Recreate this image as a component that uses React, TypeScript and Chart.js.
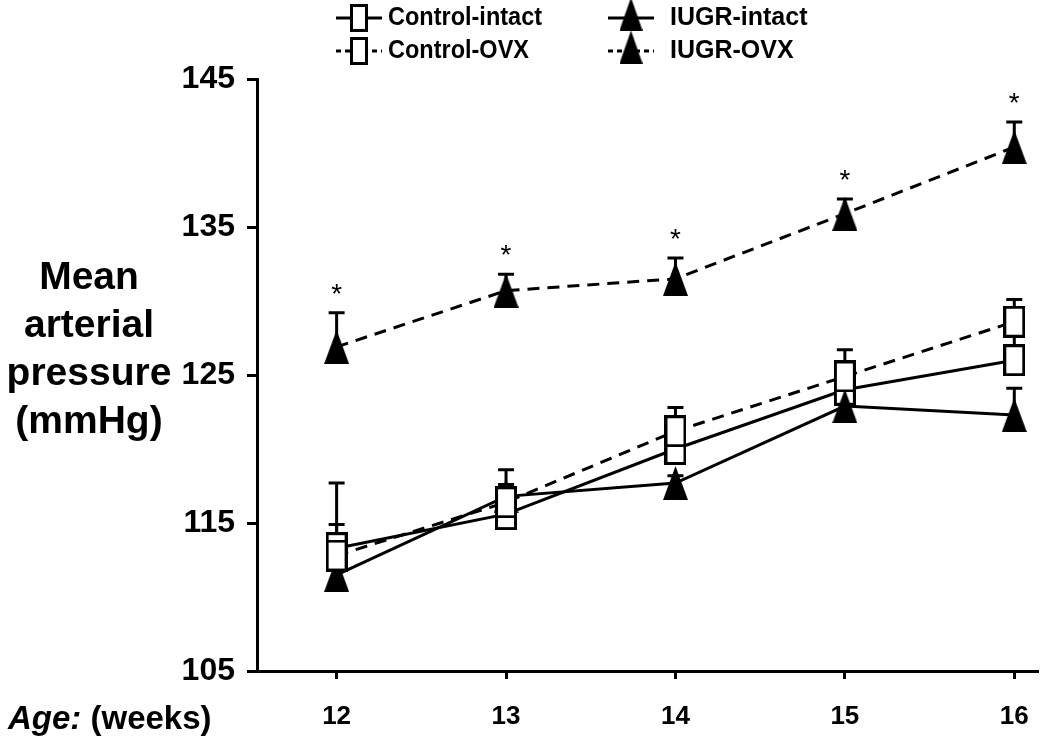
import React, { useEffect, useRef } from "react";
import { Chart, registerables } from "chart.js";

Chart.register(...registerables);

// ---- data ----
const weeks = [12, 13, 14, 15, 16];
const yTickValues = [105, 115, 125, 135, 145];
const seriesNames = ["Control-intact", "Control-OVX", "IUGR-intact", "IUGR-OVX"];

const controlIntact = [113.3, 115.6, 120.0, 124.0, 126.0];
const controlIntactErr = [4.4, 1.0, 1.7, 1.3, 2.0];
const controlOVX = [112.8, 116.4, 121.2, 124.9, 128.6];
const controlOVXErr = [2.1, 2.2, 1.6, 1.8, 1.5];
const iugrIntact = [111.5, 116.8, 117.7, 122.9, 122.3];
const iugrIntactErr = [0.5, 0.8, 0.5, 0.5, 1.8];
const iugrOVX = [126.9, 130.7, 131.5, 135.9, 140.4];
const iugrOVXErr = [2.3, 1.1, 1.4, 1.0, 1.7];
const iugrOVXSignificant = [true, true, true, true, true];

const yTitleLines = ["Mean", "arterial", "pressure", "(mmHg)"];

const FONT = "'Liberation Sans', Arial, Helvetica, sans-serif";

function makeSquare(w: number, h: number, lw: number): HTMLCanvasElement {
  const c = document.createElement("canvas");
  c.width = w;
  c.height = h;
  const ctx = c.getContext("2d")!;
  ctx.fillStyle = "#fff";
  ctx.fillRect(0, 0, w, h);
  ctx.strokeStyle = "#000";
  ctx.lineWidth = lw;
  ctx.strokeRect(lw / 2, lw / 2, w - lw, h - lw);
  return c;
}

function makeTriangle(w: number, h: number): HTMLCanvasElement {
  const c = document.createElement("canvas");
  c.width = w;
  c.height = h;
  const ctx = c.getContext("2d")!;
  ctx.fillStyle = "#000";
  ctx.beginPath();
  ctx.moveTo(w / 2, 0);
  ctx.lineTo(w, h);
  ctx.lineTo(0, h);
  ctx.closePath();
  ctx.fill();
  return c;
}

export default function App() {
  const ref = useRef<HTMLCanvasElement | null>(null);

  useEffect(() => {
    if (!ref.current) return;
    const square = makeSquare(22, 32, 3);
    const triangle = makeTriangle(25, 34);
    const legSquare = makeSquare(18, 28, 3);
    const legTriangle = makeTriangle(23, 33);

    const errs = [controlIntactErr, controlOVXErr, iugrIntactErr, iugrOVXErr];
    const vals = [controlIntact, controlOVX, iugrIntact, iugrOVX];
    const dashes = [[], [12, 8], [], [12, 8]];
    const styles = [square, square, triangle, triangle];
    const orders = [2, 0, 1, 3];

    const datasets = vals.map((v, i) => ({
      label: seriesNames[i],
      data: weeks.map((w, j) => ({ x: w, y: v[j] })),
      borderColor: "#000",
      backgroundColor: "#000",
      borderWidth: 3,
      borderDash: dashes[i],
      pointStyle: styles[i] as any,
      pointRadius: 16,
      order: orders[i],
      tension: 0,
      fill: false,
      clip: false,
    }));

    const errorBars = {
      id: "errorBars",
      beforeDatasetsDraw(chart: any) {
        const ctx = chart.ctx;
        const ys = chart.scales.y;
        const xs = chart.scales.x;
        ctx.save();
        ctx.strokeStyle = "#000";
        ctx.lineWidth = 3;
        vals.forEach((v, i) => {
          v.forEach((val, j) => {
            const x = xs.getPixelForValue(weeks[j]);
            const y0 = ys.getPixelForValue(val);
            const y1 = ys.getPixelForValue(val + errs[i][j]);
            ctx.beginPath();
            ctx.moveTo(x, y0);
            ctx.lineTo(x, y1);
            ctx.moveTo(x - 8, y1);
            ctx.lineTo(x + 8, y1);
            ctx.stroke();
          });
        });
        ctx.restore();
      },
    };

    const annotations = {
      id: "annotations",
      afterDraw(chart: any) {
        const ctx = chart.ctx;
        const ys = chart.scales.y;
        const xs = chart.scales.x;
        ctx.save();
        ctx.fillStyle = "#000";
        // stars
        ctx.font = `28px ${FONT}`;
        ctx.textAlign = "center";
        ctx.textBaseline = "alphabetic";
        iugrOVX.forEach((v, j) => {
          if (!iugrOVXSignificant[j]) return;
          const x = xs.getPixelForValue(weeks[j]);
          const y = ys.getPixelForValue(v + iugrOVXErr[j]);
          ctx.fillText("*", x, y - 10);
        });
        // y title
        ctx.font = `bold 39px ${FONT}`;
        ctx.textBaseline = "middle";
        yTitleLines.forEach((t, k) => {
          ctx.fillText(t, 89, 278 + k * 48);
        });
        // x title
        ctx.textAlign = "left";
        ctx.font = `italic bold 33px ${FONT}`;
        ctx.fillText("Age:", 8, 720);
        const w = ctx.measureText("Age:").width;
        ctx.font = `bold 33px ${FONT}`;
        ctx.fillText(" (weeks)", 8 + w, 720);
        // legend
        const items = [
          { x: 336, y: 18, dash: [], img: legSquare },
          { x: 336, y: 51, dash: [5, 4], img: legSquare },
          { x: 608, y: 18, dash: [], img: legTriangle },
          { x: 608, y: 51, dash: [5, 4], img: legTriangle },
        ];
        [0, 1, 2, 3].forEach((i) => {
          const it = items[i];
          ctx.strokeStyle = "#000";
          ctx.lineWidth = 3;
          ctx.setLineDash(it.dash);
          ctx.beginPath();
          ctx.moveTo(it.x, it.y);
          ctx.lineTo(it.x + 46, it.y);
          ctx.stroke();
          ctx.setLineDash([]);
          ctx.drawImage(it.img, it.x + 23 - it.img.width / 2, it.y - it.img.height / 2 + (i >= 2 ? -4 : 0));
          ctx.font = `bold 25px ${FONT}`;
          ctx.textAlign = "left";
          ctx.textBaseline = "middle";
          const tx = it.x + (i >= 2 ? 62 : 52);
          if (i < 2) {
            ctx.save();
            ctx.translate(tx, it.y);
            ctx.scale(0.94, 1);
            ctx.fillText(seriesNames[i], 0, 0);
            ctx.restore();
          } else {
            ctx.fillText(seriesNames[i], tx, it.y);
          }
        });
        ctx.restore();
      },
    };

    const chart = new Chart(ref.current, {
      type: "line",
      data: { datasets: datasets as any },
      options: {
        animation: false,
        responsive: false,
        devicePixelRatio: 1,
        layout: { autoPadding: false, padding: { top: 79, right: 12, left: 0, bottom: 0 } },
        plugins: { legend: { display: false }, tooltip: { enabled: false } },
        scales: {
          x: {
            type: "linear",
            min: 11.53,
            max: 16.14,
            afterBuildTicks: (s: any) => {
              s.ticks = weeks.map((v) => ({ value: v }));
            },
            afterFit: (s: any) => {
              s.height = 72;
              s.paddingLeft = 0;
              s.paddingRight = 0;
            },
            ticks: {
              color: "#000",
              font: { family: FONT, size: 26, weight: "bold" },
              padding: 22,
              maxRotation: 0,
              callback: (v: any) => String(v),
            },
            grid: { drawOnChartArea: false, drawTicks: true, tickLength: 8, tickColor: "#000", tickWidth: 3 },
            border: { display: true, color: "#000", width: 3 },
          },
          y: {
            type: "linear",
            min: 105,
            max: 145,
            afterBuildTicks: (s: any) => {
              s.ticks = yTickValues.map((v) => ({ value: v }));
            },
            afterFit: (s: any) => {
              s.width = 257;
              s.paddingTop = 0;
              s.paddingBottom = 0;
            },
            ticks: {
              color: "#000",
              font: { family: FONT, size: 32, weight: "bold" },
              padding: 12,
              callback: (v: any) => String(v),
            },
            grid: { drawOnChartArea: false, drawTicks: true, tickLength: 10, tickColor: "#000", tickWidth: 3 },
            border: { display: true, color: "#000", width: 3 },
          },
        },
      },
      plugins: [errorBars, annotations],
    });
    return () => chart.destroy();
  }, []);

  return (
    <div style={{ position: "absolute", left: 0, top: 0, width: 1050, height: 743, background: "#fff" }}>
      <canvas ref={ref} width={1050} height={743} style={{ display: "block" }} />
    </div>
  );
}
